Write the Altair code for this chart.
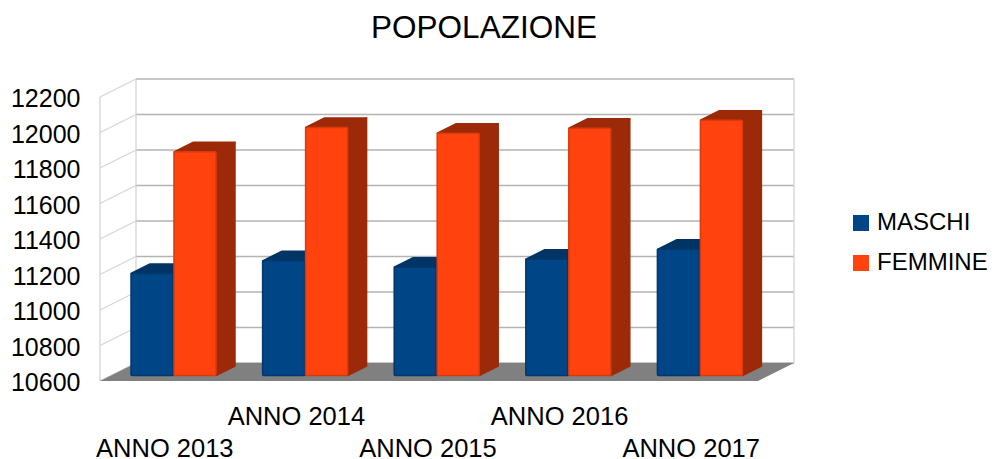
import altair as alt
import pandas as pd

YEARS = ["ANNO 2013", "ANNO 2014", "ANNO 2015", "ANNO 2016", "ANNO 2017"]
MASCHI = [11175, 11246, 11210, 11255, 11311]
FEMMINE = [11860, 11997, 11965, 11993, 12038]
TICKS = list(range(10600, 12400, 200))

FONT = "Liberation Sans"
BLUE, BLUE_DARK, BLUE_EDGE = "#004586", "#003464", "#00386c"
ORANGE, ORANGE_DARK, ORANGE_EDGE = "#ff420e", "#9c2a08", "#d93a0c"
GRID, WALL = "#b3b3b3", "#d4d4d4"

PX_PER_CAT = 131.6
PX_PER_UNIT = 35.5 / 200
W, H = 694, 302
BASE = 10600
TOP = BASE + H / PX_PER_UNIT
WALL_DX = 36 / PX_PER_CAT
WALL_DV = 18 / PX_PER_UNIT
BAR_DX = 19 / PX_PER_CAT
BAR_DV = 9.5 / PX_PER_UNIT
BAR_BASE_DV = 5.5 / PX_PER_UNIT
BAR_W = 42 / PX_PER_CAT
BLUE_L = 31 / PX_PER_CAT
ORANGE_L = 74 / PX_PER_CAT

label_lookup = "[" + ",".join(
    ("['" + t + "']") if i % 2 else ("['','" + t + "']") for i, t in enumerate(YEARS)
) + "]"

xs = alt.Scale(domain=[0, W / PX_PER_CAT], nice=False, zero=False)
ys = alt.Scale(domain=[BASE, TOP], nice=False, zero=False)
x_axis = alt.Axis(
    values=[i + 0.5 for i in range(5)], labelExpr=label_lookup + "[floor(datum.value)]",
    grid=False, domain=False, ticks=False, labelFont=FONT, labelFontSize=25.5,
    labelColor="black", labelPadding=23, labelLineHeight=32, labelBaseline="top", labelOffset=-1.5,
    labelAlign="center", labelAngle=0, labelOverlap=False, labelFlush=False)
y_axis = alt.Axis(
    values=TICKS, format="d", grid=False, domain=False, ticks=False, labelFont=FONT, labelFontSize=25,
    labelColor="black", labelPadding=20, labelOffset=1.5, labelOverlap=False, labelFlush=False)
X = alt.X("x:Q", scale=xs, title=None, axis=x_axis)
Y = alt.Y("y:Q", scale=ys, title=None, axis=y_axis)
Y2 = alt.Y2("y2:Q")


def faces(values, left):
    top, side, front = [], [], []
    b = BASE + BAR_BASE_DV
    for i, val in enumerate(values):
        v = val + BAR_BASE_DV
        l = i + left
        r = l + BAR_W
        for x, y, y2 in [(l, v, v), (l + BAR_DX, v, v + BAR_DV), (r, v, v + BAR_DV), (r + BAR_DX, v + BAR_DV, v + BAR_DV)]:
            top.append(dict(g=f"t{i}", x=x, y=y, y2=y2))
        for x, y, y2 in [(r, b, v), (r + BAR_DX, b + BAR_DV, v + BAR_DV)]:
            side.append(dict(g=f"s{i}", x=x, y=y, y2=y2))
        front.append(dict(x=l, x2=r, y=b, y2=v))
    return pd.DataFrame(top + side), pd.DataFrame(front)


floor = pd.DataFrame([
    dict(x=0, y=BASE, y2=BASE),
    dict(x=WALL_DX, y=BASE, y2=BASE + WALL_DV),
    dict(x=5, y=BASE, y2=BASE + WALL_DV),
    dict(x=5 + WALL_DX, y=BASE + WALL_DV, y2=BASE + WALL_DV),
])
back_grid = pd.DataFrame([dict(x=WALL_DX, x2=5 + WALL_DX, y=t + WALL_DV) for t in TICKS])
side_grid = pd.DataFrame(
    [dict(g=t, x=0, y=t) for t in TICKS] + [dict(g=t, x=WALL_DX, y=t + WALL_DV) for t in TICKS]
)
verticals = pd.DataFrame([
    dict(x=WALL_DX, y=BASE + WALL_DV, y2=TICKS[-1] + WALL_DV),
    dict(x=5 + WALL_DX, y=BASE + WALL_DV, y2=TICKS[-1] + WALL_DV),
    dict(x=0, y=BASE, y2=TICKS[-1]),
])

axes = alt.Chart(back_grid).mark_rule(color=GRID, strokeWidth=1.3).encode(x=X, x2="x2:Q", y=Y)
side_lines = alt.Chart(side_grid).mark_line(color=WALL, strokeWidth=1.2).encode(x=X, y=Y, detail="g:N")
vertical_lines = alt.Chart(verticals).mark_rule(color=WALL, strokeWidth=1.3).encode(x=X, y=Y, y2=Y2)
floor_area = alt.Chart(floor).mark_area(color="#808080").encode(x=X, y=Y, y2=Y2)

color = alt.Color("s:N", scale=alt.Scale(domain=["MASCHI", "FEMMINE"], range=[BLUE, ORANGE]),
                  legend=alt.Legend(title=None, orient="none", legendX=749, legendY=132, padding=0,
                                    symbolType="square", symbolSize=256, symbolStrokeWidth=0,
                                    labelFont=FONT, labelFontSize=24, labelColor="black", labelLimit=300,
                                    rowPadding=16, labelOffset=4))


def bar_layers(values, left, name, dark, edge):
    poly, front = faces(values, left)
    front["s"] = name
    return [
        alt.Chart(poly).mark_area(color=dark, stroke=dark, strokeWidth=1.5, strokeJoin="round").encode(
            x=X, y=Y, y2=Y2, detail="g:N"),
        alt.Chart(front).mark_rect(stroke=edge, strokeWidth=1.5, cornerRadius=1).encode(
            x=X, x2="x2:Q", y=Y, y2=Y2, color=color),
    ]


layers = [axes, side_lines, vertical_lines, floor_area]
layers += bar_layers(MASCHI, BLUE_L, "MASCHI", BLUE_DARK, BLUE_EDGE)
layers += bar_layers(FEMMINE, ORANGE_L, "FEMMINE", ORANGE_DARK, ORANGE_EDGE)

chart = alt.layer(*layers).properties(
    width=W, height=H,
    title=alt.TitleParams("POPOLAZIONE", font=FONT, fontSize=31.5, fontWeight="normal", color="black",
                          anchor="middle", dx=37, offset=32),
    autosize=alt.AutoSizeParams(type="none"),
    padding=alt.Padding(left=92, top=71, right=197, bottom=78),
).configure_view(stroke=None)

chart.save("out.html", embed_options={"renderer": "svg", "actions": False})
